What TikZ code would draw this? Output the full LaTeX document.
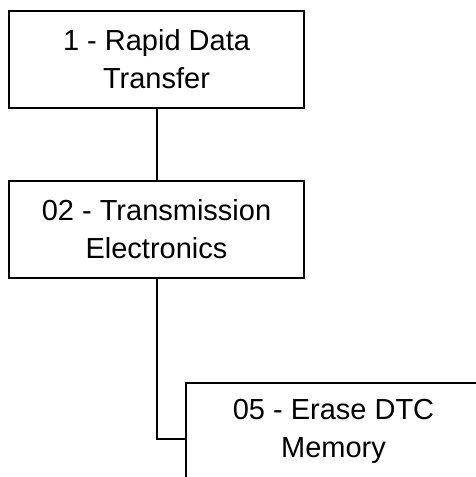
\documentclass[tikz,border=0pt]{standalone}
\usepackage{fontspec}
\setmainfont{Liberation Sans}
\usepackage{tikz}
\usetikzlibrary{positioning}

\tikzset{box/.style={draw, line width=2pt, minimum width=295pt, minimum height=97pt,
	inner sep=0pt, align=center, font=\fontsize{29}{38}\selectfont}}

\begin{document}
\begin{tikzpicture}[x=1pt,y=1pt]

	\useasboundingbox (0,0) rectangle (476,-477);

	\node [box] (rapid) at (156.5,-59) {1 - Rapid Data\\Transfer};
	\node [box, below=71pt of rapid] (trans) {02 - Transmission\\Electronics};
	\node [box] (erase) at (333.5,-431.5) {05 - Erase DTC\\Memory};

	\draw [line width=2pt]
	(rapid.south) -- (trans.north)
	(trans.south) |- ([yshift=-7.5pt]erase.west)
	;
    \end{tikzpicture}
\end{document}
